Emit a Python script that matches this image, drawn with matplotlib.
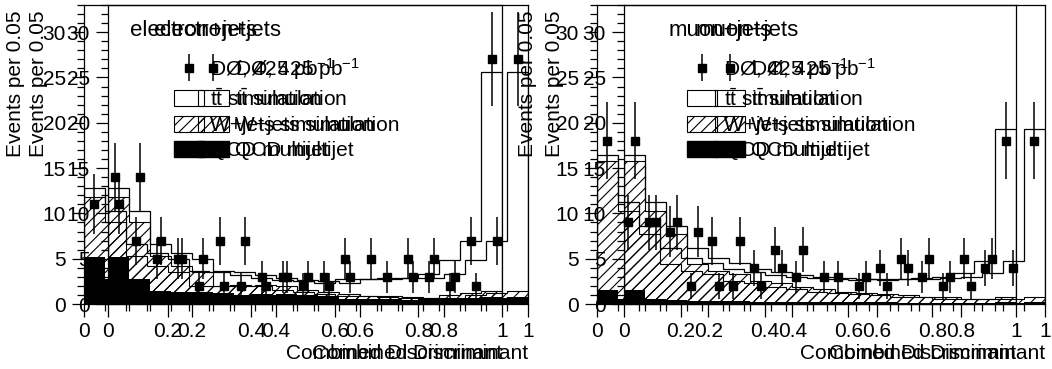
import numpy as np
import matplotlib.pyplot as plt
from matplotlib.patches import Patch
from matplotlib.legend_handler import HandlerErrorbar
from matplotlib.ticker import MultipleLocator

plt.rcParams['font.family'] = ['Liberation Sans', 'DejaVu Sans']
plt.rcParams['mathtext.fontset'] = 'custom'
plt.rcParams['mathtext.rm'] = 'Liberation Sans'
plt.rcParams['mathtext.it'] = 'Liberation Sans:italic'
plt.rcParams['hatch.linewidth'] = 0.8

edges = np.linspace(0, 1, 21)

# electron+jets: data counts and stacked predictions (top of each stack layer)
e_data = [11, 14, 7, 5, 5, 2, 7, 2, 3, 3, 2, 3, 5, 0, 3, 5, 3, 2, 7, 27]
e_total = [12.8, 10.3, 6.6, 5.6, 5.0, 3.6, 3.5, 3.2, 2.9, 2.6,
           2.5, 2.3, 2.8, 2.8, 2.9, 2.9, 3.3, 4.9, 7.0, 25.6]
e_wjets = [11.8, 9.1, 5.3, 4.2, 3.5, 2.0, 2.0, 2.1, 2.0, 1.6,
           1.3, 1.1, 0.9, 0.9, 0.8, 0.7, 0.7, 1.0, 1.2, 1.4]
e_qcd = [5.2, 2.8, 1.4, 1.3, 1.3, 1.2, 1.0, 1.0, 1.1, 1.0,
         0.9, 0.6, 0.5, 0.5, 0.4, 0.4, 0.5, 0.6, 0.7, 0.8]

# muon+jets
m_data = [18, 9, 9, 8, 2, 7, 2, 4, 6, 3, 0, 3, 2, 4, 5, 3, 2, 5, 4, 18]
m_total = [16.4, 11.3, 8.6, 6.2, 5.1, 4.5, 3.9, 3.5, 3.2, 3.0,
           2.9, 2.8, 2.7, 2.8, 2.8, 2.9, 3.0, 3.4, 4.7, 19.3]
m_wjets = [15.8, 10.3, 7.7, 4.4, 3.6, 3.3, 2.5, 2.3, 1.9, 1.7,
           1.3, 1.2, 1.1, 1.0, 0.8, 0.8, 0.6, 0.6, 0.6, 0.8]
m_qcd = [1.5, 0.6, 0.4, 0.3, 0.3, 0.3, 0.2, 0.2, 0.2, 0.2,
         0.2, 0.2, 0.2, 0.15, 0.15, 0.15, 0.15, 0.15, 0.15, 0.2]

labels = [r'DØ, 425 pb$^{-1}$', r't$\bar{\rm t}$ simulation',
          'W+jets simulation', 'QCD multijet']


def draw(ax, data, total, wjets, qcd, title, tx):
    ax.set_facecolor('none')
    ax.stairs(total, edges, color='black', lw=0.9)
    ax.stairs(wjets, edges, fill=True, facecolor='none', edgecolor='black',
              hatch='///', lw=0.8)
    ax.stairs(qcd, edges, fill=True, color='black', lw=0.8)
    d = np.array(data, float)
    c = 0.5 * (edges[1:] + edges[:-1])
    ok = d > 0
    eb = ax.errorbar(c[ok], d[ok], yerr=np.sqrt(d[ok]), fmt='s', color='black',
                     ms=5.5, elinewidth=1.1, capsize=0)

    ax.set_xlim(0, 1)
    ax.set_ylim(0, 33)
    ax.xaxis.set_major_locator(MultipleLocator(0.2))
    ax.xaxis.set_minor_locator(MultipleLocator(0.05))
    ax.yaxis.set_major_locator(MultipleLocator(5))
    ax.yaxis.set_minor_locator(MultipleLocator(1))
    ax.xaxis.set_major_formatter(lambda v, p: f'{v:g}')
    ax.tick_params(which='major', direction='out', length=9, width=0.9,
                   labelsize=15, pad=4)
    ax.tick_params(which='minor', direction='out', length=5, width=0.9)
    for s in ax.spines.values():
        s.set_linewidth(0.9)

    ax.text(-0.165, 0.983, 'Events per 0.05', rotation=90, ha='center',
            va='top', fontsize=15, transform=ax.transAxes)
    ax.text(1.0, -0.164, 'Combined Discriminant', ha='right', va='center',
            fontsize=15, transform=ax.transAxes)
    ax.text(tx, 0.916, title, ha='left', va='center', fontsize=16,
            transform=ax.transAxes)

    handles = [eb,
               Patch(facecolor='none', edgecolor='black', lw=0.8),
               Patch(facecolor='none', edgecolor='black', hatch='///', lw=0.8),
               Patch(facecolor='black', edgecolor='black')]
    ax.legend(handles, labels, loc='upper left', bbox_to_anchor=(0.215, 0.83),
              frameon=False, fontsize=15, handlelength=1.45, handleheight=0.8,
              handletextpad=0.3, labelspacing=0.29, borderpad=0,
              borderaxespad=0,
              handler_map={type(eb): HandlerErrorbar(yerr_size=0.65)})


fig = plt.figure(figsize=(10.52, 3.69), dpi=100)
W, H = 1052, 369


def box(x0, x1, y_top=5, y_bot=304):
    return [x0 / W, (H - y_bot) / H, (x1 - x0) / W, (y_bot - y_top) / H]


# each panel appears twice, the second copy shifted to the right
for x0, x1 in [(84, 502), (108, 528)]:
    ax = fig.add_axes(box(x0, x1))
    draw(ax, e_data, e_total, e_wjets, e_qcd, 'electron+jets', 0.11)
for x0, x1 in [(597, 1016), (624, 1045)]:
    ax = fig.add_axes(box(x0, x1))
    draw(ax, m_data, m_total, m_wjets, m_qcd, 'muon+jets', 0.17)

fig.savefig('out.png', dpi=100)
